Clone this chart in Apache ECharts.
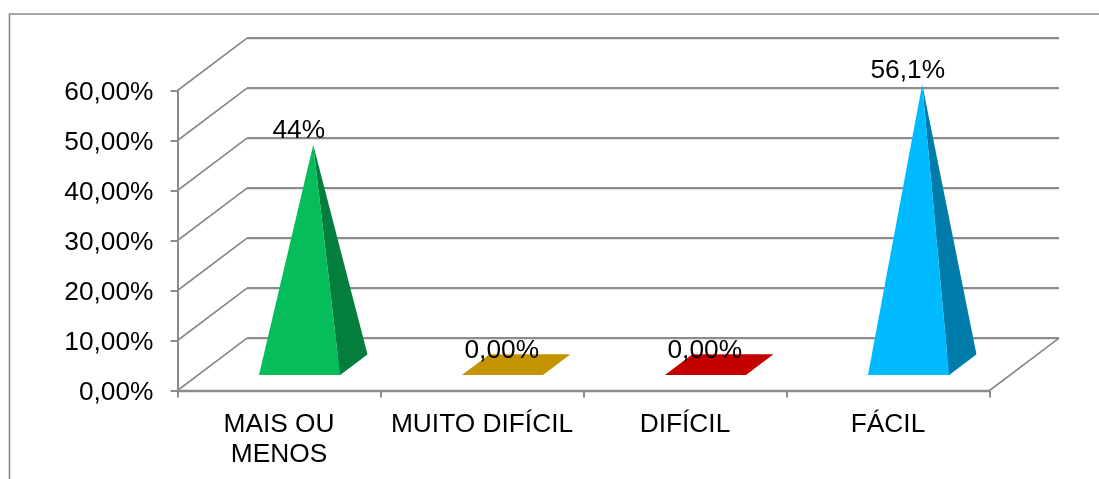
<!DOCTYPE html>
<html><head><meta charset="utf-8">
<style>html,body{margin:0;padding:0;background:#fff}#c{width:1099px;height:479px}</style>
<script src="https://cdn.jsdelivr.net/npm/echarts@6/dist/echarts.min.js"></script>
</head><body><div id="c"></div>
<script>
const categories = ['MAIS OU\nMENOS', 'MUITO DIFÍCIL', 'DIFÍCIL', 'FÁCIL'];
const values = [44, 0, 0, 56.1];
const valueLabels = ['44%', '0,00%', '0,00%', '56,1%'];
const yTicks = [0, 10, 20, 30, 40, 50, 60];
const frontColors = ['#05BD5A', '#C39400', '#C40000', '#00BAFF'];
const sideColors = ['#047E3C', '#C39400', '#C40000', '#007CAA'];

const FAMILY = '"Liberation Sans", Arial, sans-serif';
const SIZE = 26.3;
const GRID_COLOR = '#8C8C8C';
const DX = 69.5, DY = 52.4;          // wall offset of the 3D box
const F0 = 0.295, F1 = 0.69;         // pyramid base, fraction of the depth
const HALF = 40.5;                   // half of the pyramid base width

const chart = echarts.init(document.getElementById('c'), null, {renderer: 'canvas'});
chart.setOption({
  animation: false,
  backgroundColor: '#fff',
  graphic: [{
    type: 'polyline', silent: true, z: 0,
    shape: {points: [[9.5, 480], [9.5, 14], [1100, 14]]},
    style: {stroke: '#8A8A8A', lineWidth: 1.6, fill: null}
  }],
  grid: {left: 177.5, right: 109.5, top: 90.5, height: 300},
  xAxis: {
    type: 'category', data: categories, boundaryGap: true,
    axisLine: {show: true, lineStyle: {color: GRID_COLOR, width: 2.4}},
    axisTick: {show: true, alignWithLabel: false, length: 7, lineStyle: {color: GRID_COLOR, width: 2}},
    axisLabel: {color: '#000', fontFamily: FAMILY, fontSize: SIZE, lineHeight: 30, margin: 19, interval: 0},
    splitLine: {show: false}
  },
  yAxis: {
    type: 'value', min: 0, max: 60, interval: 10,
    axisLine: {show: true, lineStyle: {color: GRID_COLOR, width: 2}},
    axisTick: {show: true, length: 7, lineStyle: {color: GRID_COLOR, width: 2}},
    axisLabel: {
      color: '#000', margin: 24,
      formatter: v => '{a|' + v.toFixed(2).replace('.', ',') + '%}',
      rich: {a: {color: '#000', fontFamily: FAMILY, fontSize: SIZE, padding: [4, 0, 0, 0]}}
    },
    splitLine: {show: false}
  },
  series: [{
    type: 'custom', z: 1, silent: true, clip: false,
    encode: {x: 0, y: 1},
    data: yTicks.map(t => [0, t]),
    renderItem(params, api) {
      const cs = params.coordSys;
      const t = api.value(1);
      const y = api.coord([0, t])[1];
      const left = cs.x, right = cs.x + cs.width;
      const children = [{
        type: 'line',
        shape: {x1: left, y1: y, x2: left + DX, y2: y - DY},
        style: {stroke: GRID_COLOR, lineWidth: 1.8}
      }, {
        type: 'line',
        shape: {x1: left + DX, y1: y - DY, x2: right + DX, y2: y - DY},
        style: {stroke: GRID_COLOR, lineWidth: 2.4}
      }];
      if (t === 0) {
        children.push({
          type: 'line',
          shape: {x1: right, y1: y, x2: right + DX, y2: y - DY},
          style: {stroke: GRID_COLOR, lineWidth: 1.8}
        });
      }
      return {type: 'group', children};
    }
  }, {
    type: 'custom', z: 3, silent: true, clip: false,
    encode: {x: 0, y: 1},
    data: values.map((v, i) => [i, v]),
    renderItem(params, api) {
      const i = api.value(0), v = api.value(1);
      const p0 = api.coord([i, 0]), pv = api.coord([i, v]);
      const h = p0[1] - pv[1];
      const fx = p0[0] + DX * F0, fy = p0[1] - DY * F0;
      const bx = p0[0] + DX * F1, by = p0[1] - DY * F1;
      const fl = [fx - HALF, fy], fr = [fx + HALF, fy];
      const bl = [bx - HALF, by], br = [bx + HALF, by];
      const apex = [(fx + bx) / 2, (fy + by) / 2 - h];
      const children = [{
        type: 'polygon', shape: {points: [fl, fr, br, bl]},
        style: {fill: frontColors[i]}
      }];
      if (v > 0) {
        children.push({type: 'polygon', shape: {points: [fr, br, apex]}, style: {fill: sideColors[i]}});
        children.push({type: 'polygon', shape: {points: [fl, fr, apex]}, style: {fill: frontColors[i]}});
      }
      children.push({
        type: 'text',
        style: {
          text: valueLabels[i], x: apex[0] - 14.5, y: apex[1] - 13.5,
          align: 'center', verticalAlign: 'middle', fill: '#000',
          fontFamily: FAMILY, fontSize: SIZE
        }
      });
      return {type: 'group', children};
    }
  }]
});
</script></body></html>
